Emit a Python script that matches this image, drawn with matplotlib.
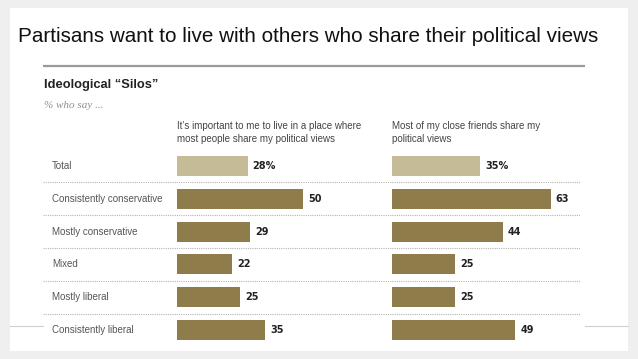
import matplotlib
matplotlib.use("Agg")
import matplotlib.pyplot as plt
import matplotlib.transforms as mtransforms
from matplotlib.patches import Rectangle

# ---- data ----
categories = ["Total", "Consistently conservative", "Mostly conservative",
              "Mixed", "Mostly liberal", "Consistently liberal"]
live_place = [28, 50, 29, 22, 25, 35]
close_friends = [35, 63, 44, 25, 25, 49]
value_labels_left = ["28%", "50", "29", "22", "25", "35"]
value_labels_right = ["35%", "63", "44", "25", "25", "49"]
header_left = "It\u2019s important to me to live in a place where\nmost people share my political views"
header_right = "Most of my close friends share my\npolitical views"
slide_title = "Partisans want to live with others who share their political views"
chart_title = "Ideological \u201cSilos\u201d"
chart_subtitle = "% who say ..."

# ---- layout (pixels) ----
W, H = 638, 359
ROW0, STEP = 166.0, 32.8
PXU = 2.52
XMAX = 80
LEFT_X0, RIGHT_X0 = 177, 392

SANS = ["Liberation Sans", "DejaVu Sans"]

fig = plt.figure(figsize=(W / 100, H / 100), dpi=100)
fig.patch.set_facecolor("#efefef")

deco = fig.add_axes([0, 0, 1, 1])
deco.set_xlim(0, W)
deco.set_ylim(H, 0)
deco.axis("off")
deco.add_patch(Rectangle((10, 8), 618, 343, facecolor="white", edgecolor="none"))

deco.text(18, 36, slide_title, fontsize=14.9, family=SANS, color="#111111",
          va="center", ha="left")
deco.plot([43, 585], [66, 66], color="#9a9a9a", lw=1.6, solid_capstyle="butt")
deco.plot([10, 43], [326, 326], color="#d0d0d0", lw=0.8)
deco.plot([585, 628], [326, 326], color="#d0d0d0", lw=0.8)
deco.text(44, 85, chart_title, fontsize=9.3, family=SANS, fontweight="bold",
          color="#222222", va="center", ha="left")
deco.text(44, 105, chart_subtitle, fontsize=8, family=["Liberation Serif", "DejaVu Serif"],
          style="italic", color="#8f8f8f", va="center", ha="left")
deco.text(LEFT_X0, 132.5, header_left, fontsize=7, family=SANS, color="#444444",
          va="center", ha="left", linespacing=1.4)
deco.text(RIGHT_X0, 132.5, header_right, fontsize=7, family=SANS, color="#444444",
          va="center", ha="left", linespacing=1.4)

ax_h = 2 * 0.5 * STEP + (len(categories) - 1) * STEP
ax_top = ROW0 - STEP / 2
ax_w = XMAX * PXU


def make_ax(x0):
    ax = fig.add_axes([x0 / W, 1 - (ax_top + ax_h) / H, ax_w / W, ax_h / H])
    ax.set_xlim(0, XMAX)
    ax.set_ylim(len(categories) - 0.5, -0.5)
    ax.axis("off")
    ax.patch.set_alpha(0)
    return ax


axL = make_ax(LEFT_X0)
axR = make_ax(RIGHT_X0)

colors = ["#c5bb97"] + ["#8e7d4b"] * (len(categories) - 1)
ys = list(range(len(categories)))
for ax, vals, labs in [(axL, live_place, value_labels_left),
                       (axR, close_friends, value_labels_right)]:
    ax.barh(ys, vals, height=0.61, color=colors, edgecolor="none")
    off = mtransforms.offset_copy(ax.transData, fig=fig, x=5, y=0, units="dots")
    for y, v, lab in zip(ys, vals, labs):
        ax.text(v, y, lab, transform=off, fontsize=7, family="DejaVu Sans",
                fontweight="bold", color="#222222", va="center", ha="left")

# category labels and dotted separators
blend = mtransforms.blended_transform_factory(deco.transData, axL.transData)
for y, cat in zip(ys, categories):
    deco.text(52, y, cat, transform=blend, fontsize=7, family=SANS,
              color="#555555", va="center", ha="left")
for k in range(1, len(categories)):
    deco.plot([43, 580], [k - 0.5, k - 0.5], transform=blend, color="#b5b5b5",
              lw=0.8, linestyle=(0, (1, 1)))

fig.savefig("out.png", dpi=100, facecolor=fig.get_facecolor())
